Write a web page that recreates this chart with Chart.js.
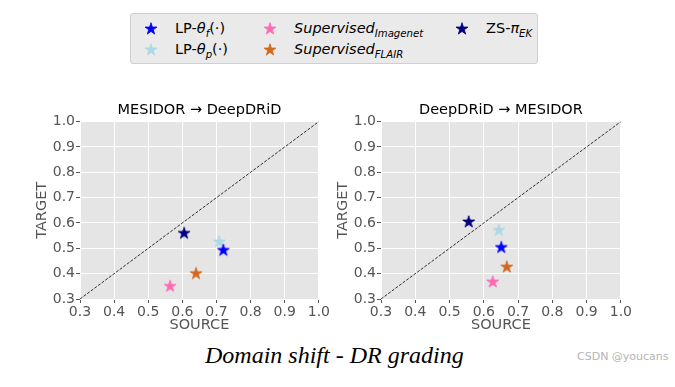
<!DOCTYPE html>
<html>
<head>
<meta charset="utf-8">
<script src="https://cdn.jsdelivr.net/npm/chart.js@4.4.0/dist/chart.umd.min.js"></script>
<style>
  body { margin: 0; background: #fff; width: 675px; height: 387px; position: relative; overflow: hidden; font-family: "DejaVu Sans"; }
  #legend { position: absolute; left: 130px; top: 13px; width: 406px; height: 49px; background: #eaeaea; border: 1px solid #cfcfcf; border-radius: 3px; }
  .item { position: absolute; font-size: 14.5px; color: #000; white-space: nowrap; line-height: 17px; }
  .item canvas { position: absolute; }
  .sub { font-size: 70%; font-style: italic; position: relative; top: 0.4em; }
  .chart { position: absolute; }
  #caption { position: absolute; left: 205px; top: 342px; font-family: "Liberation Serif"; font-style: italic; font-size: 24px; color: #000; white-space: nowrap; }
  #mark { position: absolute; left: 577px; top: 350px; font-size: 11px; color: #b4b4b4; white-space: nowrap; }
</style>
</head>
<body>
<div id="legend"></div>
<div class="chart" style="left:30px;top:95px;width:301px;height:239px;"><canvas id="c1"></canvas></div>
<div class="chart" style="left:331px;top:95px;width:302px;height:239px;"><canvas id="c2"></canvas></div>
<div id="caption">Domain shift - DR grading</div>
<div id="mark">CSDN @youcans</div>
<script>
// methods and colours
const methods = ["LP-θf(·)", "LP-θp(·)", "Supervised Imagenet", "Supervised FLAIR", "ZS-πEK"];
const legendHtml = [
  'LP-<i>θ</i><span class="sub">f</span>(·)',
  'LP-<i>θ</i><span class="sub">p</span>(·)',
  '<i>Supervised</i><span class="sub">Imagenet</span>',
  '<i>Supervised</i><span class="sub">FLAIR</span>',
  'ZS-<i>π</i><span class="sub">EK</span>'
];
const colors = ["#0000ff", "#add8e6", "#ff69b4", "#d2691e", "#000080"];

// MESIDOR -> DeepDRiD
const mesDeepX = [0.720, 0.708, 0.564, 0.640, 0.605];
const mesDeepY = [0.492, 0.525, 0.350, 0.400, 0.559];
// DeepDRiD -> MESIDOR
const deepMesX = [0.651, 0.644, 0.626, 0.667, 0.556];
const deepMesY = [0.503, 0.571, 0.367, 0.426, 0.604];

const axisMin = 0.3, axisMax = 1.0;
const tickValues = [0.3, 0.4, 0.5, 0.6, 0.7, 0.8, 0.9, 1.0];

function starImage(color, R) {
  const s = Math.ceil(R * 2 + 3);
  const c = document.createElement("canvas");
  c.width = s; c.height = s;
  const g = c.getContext("2d");
  const r = R * 0.381966;
  g.beginPath();
  for (let k = 0; k < 10; k++) {
    const a = -Math.PI / 2 + k * Math.PI / 5;
    const rr = k % 2 === 0 ? R : r;
    const px = s / 2 + rr * Math.cos(a), py = s / 2 + rr * Math.sin(a);
    if (k === 0) g.moveTo(px, py); else g.lineTo(px, py);
  }
  g.closePath();
  g.fillStyle = color;
  g.fill();
  g.strokeStyle = color;
  g.lineWidth = 0.8;
  g.stroke();
  return c;
}

const stars = colors.map(c => starImage(c, 6.3));

// legend (html, so the subscripts stay real text)
const legendPos = [[20, 15], [20, 36], [139, 15], [139, 36], [331, 15]];
const legend = document.getElementById("legend");
for (let i = 0; i < methods.length; i++) {
  const d = document.createElement("div");
  d.className = "item";
  d.style.left = legendPos[i][0] + "px";
  d.style.top = (legendPos[i][1] - 9) + "px";
  const st = starImage(colors[i], 6.3);
  st.style.left = "-" + (st.width / 2) + "px";
  st.style.top = (9 - st.height / 2) + "px";
  d.appendChild(st);
  const t = document.createElement("span");
  t.style.marginLeft = "24px";
  t.innerHTML = legendHtml[i];
  d.appendChild(t);
  legend.appendChild(d);
}

const plotBg = {
  id: "plotBg",
  beforeDraw(chart) {
    const a = chart.chartArea, ctx = chart.ctx;
    ctx.save();
    ctx.fillStyle = "#e5e5e5";
    ctx.fillRect(a.left, a.top, a.right - a.left, a.bottom - a.top);
    ctx.restore();
  }
};

function makeChart(id, title, xs, ys) {
  const datasets = methods.map((m, i) => ({
    label: m,
    data: [{ x: xs[i], y: ys[i] }],
    pointStyle: stars[i],
    pointRadius: 7,
    pointHoverRadius: 7
  }));
  datasets.push({
    type: "line",
    label: "diag",
    data: [{ x: axisMin, y: axisMin }, { x: axisMax, y: axisMax }],
    borderColor: "#000",
    borderWidth: 0.8,
    borderDash: [3, 1.5],
    pointRadius: 0,
    fill: false
  });

  const common = {
    type: "linear",
    min: axisMin,
    max: axisMax,
    border: { display: false },
    grid: { color: "#ffffff", lineWidth: 1, tickColor: "#555555", tickLength: 4 },
    afterBuildTicks(s) { s.ticks = tickValues.map(v => ({ value: v })); }
  };

  new Chart(document.getElementById(id), {
    type: "scatter",
    data: { datasets: datasets },
    plugins: [plotBg],
    options: {
      responsive: true,
      maintainAspectRatio: false,
      animation: false,
      layout: { padding: { right: 12, left: 0, top: 0, bottom: 0 } },
      plugins: {
        legend: { display: false },
        tooltip: { enabled: false },
        title: {
          display: true,
          fullSize: false,
          text: title,
          color: "#000",
          font: { family: "DejaVu Sans", size: 14.5, weight: "normal" },
          padding: { top: 6.6, bottom: 2.6 }
        }
      },
      scales: {
        x: Object.assign({}, common, {
          position: "bottom",
          ticks: { color: "#555555", font: { family: "DejaVu Sans", size: 14 }, padding: 1, maxRotation: 0,
                   callback: v => v.toFixed(1) },
          title: { display: true, text: "SOURCE", color: "#555555", font: { family: "DejaVu Sans", size: 14.5 }, padding: { top: 0, bottom: 0 } },
          afterFit(s) { s.height = 35; }
        }),
        y: Object.assign({}, common, {
          position: "left",
          ticks: { color: "#555555", font: { family: "DejaVu Sans", size: 14 }, padding: 1,
                   callback: v => v.toFixed(1) },
          title: { display: true, text: "TARGET", color: "#555555", font: { family: "DejaVu Sans", size: 14.5 }, padding: { top: 4, bottom: 0 } },
          afterFit(s) { s.width = 50; }
        })
      }
    }
  });
}

makeChart("c1", "MESIDOR → DeepDRiD", mesDeepX, mesDeepY);
makeChart("c2", "DeepDRiD → MESIDOR", deepMesX, deepMesY);
</script>
</body>
</html>
